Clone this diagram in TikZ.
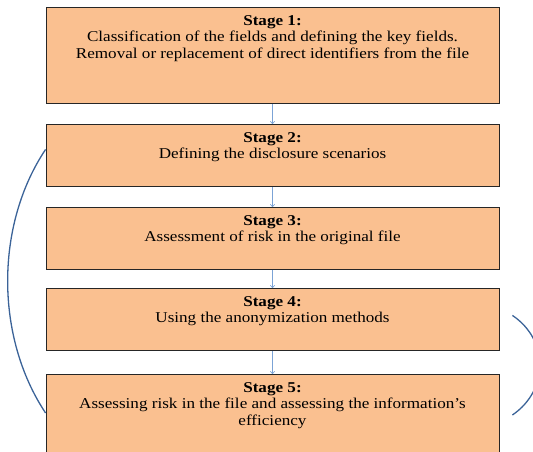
\documentclass[tikz,border=0pt]{standalone}
\usepackage{fontspec}
\setmainfont[FakeStretch=1.14]{Liberation Serif}
\usetikzlibrary{arrows.meta}
\definecolor{boxfill}{HTML}{FAC090}
\definecolor{arrowblue}{HTML}{7BA3D6}
\definecolor{loopblue}{HTML}{3B6398}
\begin{document}
\begin{tikzpicture}[x=1pt,y=1pt,
  stagebox/.style={draw=black!85,line width=0.8pt,fill=boxfill,minimum width=453pt,inner sep=0pt,anchor=north},
  stagetext/.style={anchor=north,align=center,font=\fontsize{15}{16.8}\selectfont,inner sep=0pt},
  flow/.style={draw=arrowblue,line width=0.6pt,-{To[length=3pt,width=5pt]}},
  loopline/.style={draw=loopblue,line width=1.3pt}]
\useasboundingbox (0,0) rectangle (533,-451);
\node[stagebox,minimum height=96pt] (s1) at (272.5,-7) {};
\node[stagebox,minimum height=62pt] (s2) at (272.5,-124) {};
\node[stagebox,minimum height=62pt] (s3) at (272.5,-207) {};
\node[stagebox,minimum height=62pt] (s4) at (272.5,-288) {};
\node[stagebox,minimum height=100pt] (s5) at (272.5,-374) {};
\node[stagetext] (t1) at ([yshift=-8pt]s1.north) {\textbf{Stage 1:}\\Classification of the fields and defining the key fields.\\Removal or replacement of direct identifiers from the file};
\node[stagetext] (t2) at ([yshift=-8pt]s2.north) {\textbf{Stage 2:}\\Defining the disclosure scenarios};
\node[stagetext] (t3) at ([yshift=-8pt]s3.north) {\textbf{Stage 3:}\\Assessment of risk in the original file};
\node[stagetext] (t4) at ([yshift=-8pt]s4.north) {\textbf{Stage 4:}\\Using the anonymization methods};
\node[stagetext] (t5) at ([yshift=-8pt]s5.north) {\textbf{Stage 5:}\\Assessing risk in the file and assessing the information's\\efficiency};
\draw[flow] (s1.south) -- (s2.north);
\draw[flow] (s2.south) -- (s3.north);
\draw[flow] (s3.south) -- (s4.north);
\draw[flow] (s4.south) -- (s5.north);
\coordinate (la) at ([yshift=6pt]s2.west);
\coordinate (lb) at ([yshift=-39pt]s5.north west);
\coordinate (ra) at ([xshift=13pt,yshift=4pt]s4.east);
\coordinate (rb) at ([xshift=13pt,yshift=-41pt]s5.north east);
\draw[loopline] (la) .. controls (-5,-225) and (-5,-337) .. (lb);
\draw[loopline] (ra) .. controls (549,-340) and (549,-390) .. (rb);
\end{tikzpicture}
\end{document}
